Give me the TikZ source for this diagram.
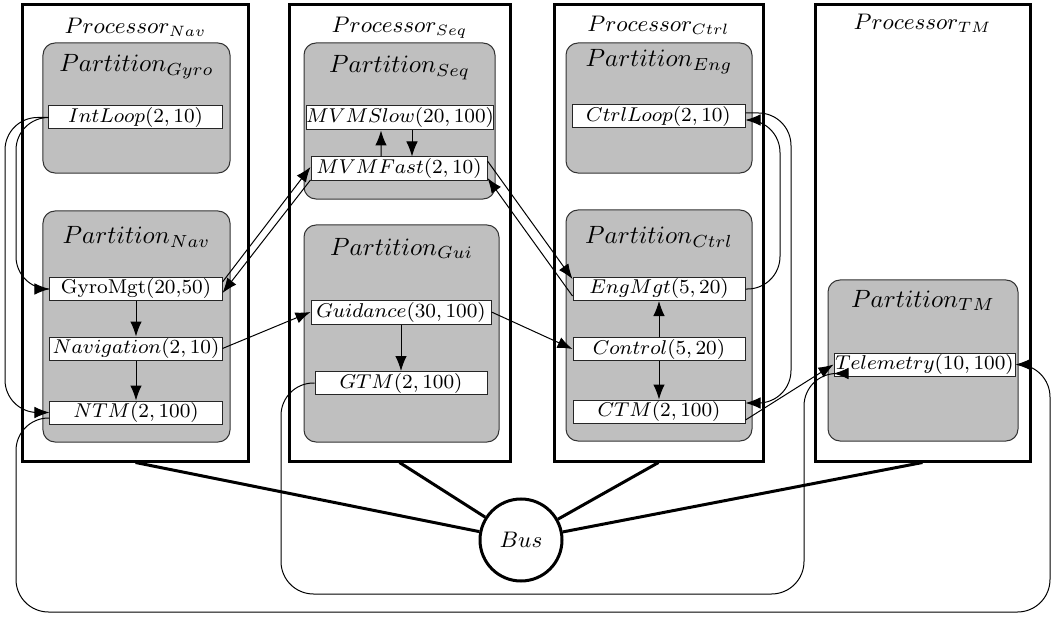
\documentclass[tikz,border=0pt]{standalone}
\usetikzlibrary{arrows.meta,calc}
\definecolor{partgray}{RGB}{191,191,191}
\begin{document}
\begin{tikzpicture}[x=0.4pt,y=-0.4pt,
  proc/.style={draw, line width=1.2pt, fill=white, inner sep=0pt, minimum height=182.4pt},
  part/.style={draw=black!80, line width=0.4pt, fill=partgray, rounded corners=4.8pt, inner sep=0pt},
  task/.style={draw=black!85, line width=0.4pt, fill=white, inner sep=0pt, minimum height=9.2pt, font=\footnotesize},
  ttl/.style={anchor=base, inner sep=0pt},
  pttl/.style={ttl, font=\small},
  arr/.style={-{Latex[length=6pt,width=4.6pt]}, line width=0.4pt},
  loopc/.style={arr, rounded corners=13pt},
  busl/.style={line width=1.2pt}]
\useasboundingbox (0,0) rectangle (1054,619);

% processors
\node[proc, minimum width=90pt]   (PNav)  at (135.5,233) {};
\node[proc, minimum width=88.4pt] (PSeq)  at (399.5,233) {};
\node[proc, minimum width=83.6pt] (PCtrl) at (658.5,233) {};
\node[proc, minimum width=86pt]   (PTM)   at (922.5,233) {};

\node[pttl] (tPNav)  at (135.5,34) {$Processor_{Nav}$};
\node[pttl] (tPSeq)  at (399.5,33) {$Processor_{Seq}$};
\node[pttl] (tPCtrl) at (658.5,32) {$Processor_{Ctrl}$};
\node[pttl] (tPTM)   at (922.5,30) {$Processor_{TM}$};

% partitions
\node[part, minimum width=74.8pt, minimum height=52pt]   (Gyro)  at (136.5,108) {};
\node[part, minimum width=74.8pt, minimum height=92.4pt] (NavP)  at (136.5,326.5) {};
\node[part, minimum width=76.4pt, minimum height=62.4pt] (SeqP)  at (399.5,121) {};
\node[part, minimum width=78pt,   minimum height=86.8pt] (GuiP)  at (401.5,333.5) {};
\node[part, minimum width=74.4pt, minimum height=52pt]   (EngP)  at (659,108) {};
\node[part, minimum width=74.4pt, minimum height=92.4pt] (CtrlP) at (659,325.5) {};
\node[part, minimum width=76pt,   minimum height=64.4pt] (TMP)   at (923,360.5) {};

\node[ttl] (tGyro)  at (136.5,72)  {$Partition_{Gyro}$};
\node[ttl] (tNavP)  at (136.5,244) {$Partition_{Nav}$};
\node[ttl] (tSeqP)  at (399.5,73)  {$Partition_{Seq}$};
\node[ttl] (tGuiP)  at (401.5,255) {$Partition_{Gui}$};
\node[ttl] (tEngP)  at (659,67)    {$Partition_{Eng}$};
\node[ttl] (tCtrlP) at (659,244)   {$Partition_{Ctrl}$};
\node[ttl] (tTMP)   at (923,307)   {$Partition_{TM}$};

% tasks
\node[task, minimum width=69.2pt] (IntLoop)    at (135.5,117.5) {$IntLoop(2,10)$};
\node[task, minimum width=68.8pt] (GyroMgt)    at (136,289)     {GyroMgt(20,50)};
\node[task, minimum width=68.8pt] (Navigation) at (136,348.5)   {$Navigation(2,10)$};
\node[task, minimum width=68.8pt] (NTM)        at (136,412.5)   {$NTM(2,100)$};
\node[task, minimum width=73.6pt, minimum height=9.6pt] (MVMSlow) at (400,118) {$MVMSlow(20,100)$};
\node[task, minimum width=70.4pt, minimum height=9.6pt] (MVMFast) at (399,169) {$MVMFast(2,10)$};
\node[task, minimum width=72pt, minimum height=9.6pt]   (Guidance) at (401,312) {$Guidance(30,100)$};
\node[task, minimum width=68.8pt] (GTM)        at (401,383)     {$GTM(2,100)$};
\node[task, minimum width=69.2pt] (CtrlLoop)   at (658.5,116.5) {$CtrlLoop(2,10)$};
\node[task, minimum width=68.8pt] (EngMgt)     at (659,289)     {$EngMgt(5,20)$};
\node[task, minimum width=68.8pt] (Control)    at (659,349)     {$Control(5,20)$};
\node[task, minimum width=68.8pt] (CTM)        at (659,411.5)   {$CTM(2,100)$};
\node[task, minimum width=72.4pt] (Telemetry)  at (924.5,364.5) {$Telemetry(10,100)$};

% bus
\node[circle, draw, line width=1.2pt, fill=white, minimum size=32.8pt, inner sep=0pt, font=\small] (Bus) at (521,540) {$Bus$};
\draw[busl] (PNav.south)  -- (Bus);
\draw[busl] (PSeq.south)  -- (Bus);
\draw[busl] (PCtrl.south) -- (Bus);
\draw[busl] (PTM.south)   -- (Bus);

% loop helper coordinates
\coordinate (lA)  at (16,200);
\coordinate (lB)  at (5,250);
\coordinate (oBL) at (16,612);
\coordinate (oBR) at (1050,612);
\coordinate (mBL) at (281,594);
\coordinate (mBR) at (804,594);
\coordinate (rA)  at (780,200);
\coordinate (rB)  at (791,250);

% connectors inside partitions
\draw[arr] (GyroMgt) -- (Navigation);
\draw[arr] (Navigation) -- (NTM);
\draw[arr] (Guidance) -- (GTM);
\draw[arr] (Control) -- (EngMgt);
\draw[arr] (Control) -- (CTM);
\draw[arr] ([xshift=-7.2pt]MVMFast.north) -- ([xshift=-7.6pt]MVMSlow.south);
\draw[arr] ([xshift=4.8pt]MVMSlow.south) -- ([xshift=5.2pt]MVMFast.north);

% cross connectors
\draw[arr] ([yshift=2.8pt]GyroMgt.east) -- ([yshift=0.8pt]MVMFast.west);
\draw[arr] ([yshift=-4.4pt]MVMFast.west) -- ([yshift=-1.6pt]GyroMgt.east);
\draw[arr] ([yshift=3.2pt]MVMFast.east) -- ([yshift=4pt]EngMgt.west);
\draw[arr] ([yshift=-2.8pt]EngMgt.west) -- ([yshift=-3.6pt]MVMFast.east);
\draw[arr] (Navigation.east) -- (Guidance.west);
\draw[arr] (Guidance.east) -- (Control.west);
\draw[arr] ([yshift=-3.4pt]CTM.east) -- ([yshift=0pt]Telemetry.west);

% loops
\draw[loopc] (IntLoop.west) -| (lA) |- (GyroMgt.west);
\draw[loopc] (IntLoop.west) -| (lB) |- (NTM.west);
\draw[loopc] ([yshift=-2.2pt]NTM.west) -| (oBL) -- (oBR) |- (Telemetry.east);
\draw[loopc] (GTM.west) -| (mBL) -- (mBR) |- ([yshift=-3.6pt]Telemetry.west);
\draw[loopc] (EngMgt.east) -| (rA) |- ([yshift=-1.4pt]CtrlLoop.east);
\draw[loopc] ([yshift=1.4pt]CtrlLoop.east) -| (rB) |- ([yshift=3.4pt]CTM.east);
\end{tikzpicture}
\end{document}
